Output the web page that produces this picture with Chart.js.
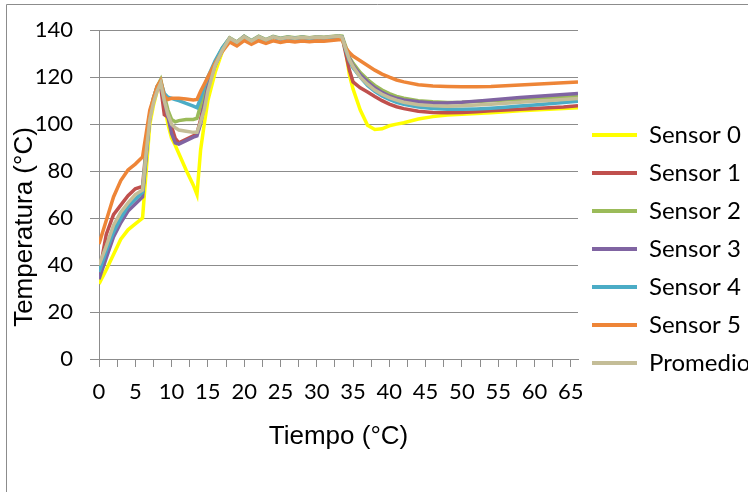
<!DOCTYPE html>
<html>
<head>
<meta charset="utf-8">
<script src="https://cdn.jsdelivr.net/npm/chart.js@4.4.1/dist/chart.umd.min.js"></script>
<style>
  html, body { margin: 0; padding: 0; background: #fff; }
  canvas { display: block; }
</style>
</head>
<body>
<canvas id="chart" width="748" height="492"></canvas>
<script>
// Time of each reading
const time = [0,1,2,3,4,5,6,6.5,7,7.5,8,8.5,9,9.5,10,10.5,11,12,13,13.5,14,14.5,15,16,17,
  18,19,20,21,22,23,24,25,26,27,28,29,30,31,32,33,33.5,34,34.5,35,36,37,38,39,40,41,42,
  44,46,48,50,52,54,56,58,60,62,64,66];

// Temperature readings (°C) per sensor
const sensor0 = [32,38,44.5,51,55,57.5,60,80,100,108,114,117.5,108,100,94,91,87.5,80.5,74,70,89,100,110,122,131,
  136.3,134.6,137.1,135.2,137,135.7,137.1,136.2,136.9,136.4,136.9,136.5,136.9,136.7,137,137.3,
  137,131,121,115,106,99.5,97.7,98,99.3,100,100.6,102.2,103.2,103.9,104.2,104.5,104.9,105.3,105.7,106,106.3,106.7,107];
const sensor1 = [36,53,61.5,65.5,69.5,72.5,73.5,90,104,110,115,116,104,103,99,94,92,93.5,95,96,102,110,117,126,132,
  136.5,134.8,137.2,135.3,137.1,135.8,137.2,136.3,137,136.5,137,136.6,137,136.8,137.1,137.4,
  137,130,123,118,115.5,113.7,111.8,110,108.5,107.4,106.6,105.5,105,104.8,105,105.3,105.7,106,106.3,106.7,107,107.3,107.8];
const sensor2 = [38,48,56,61,65,68,71,88,104,111,116,119,112,106,102,101,101.5,102,102,102.5,108,113,118,126.5,132.5,
  136.8,135,137.5,135.6,137.4,136,137.4,136.6,137.2,136.8,137.2,136.8,137.2,137,137.3,137.6,
  137.5,133,128.5,126,122,119,116.5,114.5,113,111.8,111,110,109.5,109.2,109.3,109.6,110,110.3,110.6,110.9,111.2,111.5,111.8];
const sensor3 = [34,43,52,58,63,66,69,86,103,110,115,117,110,103,96,92,91.5,93,94.5,95,100,108,116,125,131.5,
  136.4,134.7,137.2,135.2,137.1,135.7,137.1,136.2,136.9,136.4,136.9,136.5,136.9,136.7,137,137.3,
  137,132,128,125,121,118,115.5,113.5,112,111,110.3,109.5,109,109,109.3,109.8,110.3,110.8,111.3,111.8,112.2,112.6,113];
const sensor4 = [37,46,54,60,65,68,71,88,104,111,116,118,113,111.5,111,110.5,110,108.8,107.7,107,111,116,120,127,132.5,
  136.6,134.8,137.3,135.4,137.2,135.8,137.2,136.4,137,136.6,137,136.6,137,136.8,137.1,137.4,
  137,131.5,127,124,120,116.5,114,112,110.5,109.3,108.5,107.3,106.7,106.3,106.3,106.5,106.8,107.2,107.7,108.2,108.7,109.2,109.7];
const sensor5 = [49,59,69,76,80.5,83,86,96,106,111,116,118.5,112,110.5,111,111,111,110.7,110.3,110.5,114,117,120,126,131,
  135,133.3,135.6,134,135.5,134.4,135.5,134.8,135.4,135,135.4,135.1,135.4,135.3,135.6,135.9,
  136,132.5,130.5,129,127,125,123,121.3,120,118.8,118,116.8,116.2,116,115.9,115.9,116,116.3,116.7,117,117.3,117.6,117.9];
const promedio = [40,48,57,62.5,66.5,70,72,88,102,109,114,117.5,110,104,100,98.5,97.5,97,96.5,96.5,101,106,114,125,131.5,
  136.6,134.9,137.3,135.4,137.2,135.9,137.2,136.4,137,136.6,137,136.7,137.1,136.9,137.2,137.5,
  137,132,127.5,124.5,120,117,114.5,112.7,111.3,110.2,109.3,108.3,107.8,107.6,107.8,108.1,108.5,108.9,109.3,109.7,110.1,110.5,110.9];

const seriesNames = ['Sensor 0', 'Sensor 1', 'Sensor 2', 'Sensor 3', 'Sensor 4', 'Sensor 5', 'Promedio'];
const seriesValues = [sensor0, sensor1, sensor2, sensor3, sensor4, sensor5, promedio];
const seriesColors = ['#FFFF00', '#C0504D', '#9BBB59', '#8064A2', '#4BACC6', '#EE8537', '#C4BD97'];

// Axis ranges and tick spacing
const xMin = 0, xMax = 66, xTickStep = 2.5, xLabelStep = 5;
const yMin = 0, yMax = 140, yTickStep = 20;
const xTitle = 'Tiempo (°C)';
const yTitle = 'Temperatura (°C)';

const gridColor = '#8c8c8c';
const tickFont = { family: 'Lato', size: 22 };
const titleFont = { family: 'Liberation Sans', size: 26 };

// Outer frame of the chart object
const framePlugin = {
  id: 'frame',
  beforeDraw(chart) {
    const ctx = chart.ctx;
    ctx.save();
    ctx.strokeStyle = '#8c8c8c';
    ctx.lineWidth = 1;
    ctx.beginPath();
    ctx.moveTo(6.5, chart.height);
    ctx.lineTo(6.5, 4.5);
    ctx.lineTo(chart.width, 4.5);
    ctx.stroke();
    ctx.restore();
  }
};

// Vertical axis title, placed beside the value axis
const yTitlePlugin = {
  id: 'yTitle',
  afterDraw(chart) {
    const ctx = chart.ctx;
    ctx.save();
    ctx.translate(25, 227);
    ctx.rotate(-Math.PI / 2);
    ctx.font = `${titleFont.size}px "${titleFont.family}"`;
    ctx.fillStyle = '#000';
    ctx.textAlign = 'center';
    ctx.textBaseline = 'middle';
    ctx.fillText(yTitle, 0, 0);
    ctx.restore();
  }
};

const datasets = seriesNames.map((name, i) => ({
  label: name,
  data: time.map((t, k) => ({ x: t, y: seriesValues[i][k] })),
  borderColor: seriesColors[i],
  backgroundColor: seriesColors[i],
  borderWidth: 3.5,
  pointRadius: 0,
  tension: 0,
  fill: false,
  order: seriesNames.length - i
}));

new Chart(document.getElementById('chart'), {
  type: 'line',
  data: { datasets },
  plugins: [framePlugin, yTitlePlugin],
  options: {
    responsive: false,
    animation: false,
    devicePixelRatio: 1,
    layout: { padding: { top: 28, left: 0, right: 0, bottom: 22 } },
    plugins: {
      tooltip: { enabled: false },
      legend: {
        position: 'right',
        align: 'center',
        maxWidth: 170,
        labels: {
          boxWidth: 45,
          boxHeight: 4,
          padding: 14,
          color: '#000',
          font: { family: 'Lato', size: 24 },
          generateLabels: (chart) => chart.data.datasets.map((ds, i) => ({
            text: ds.label,
            fillStyle: ds.borderColor,
            strokeStyle: ds.borderColor,
            lineWidth: 0,
            hidden: false,
            datasetIndex: i,
            fontColor: '#000'
          }))
        }
      }
    },
    scales: {
      x: {
        type: 'linear',
        min: xMin,
        max: xMax,
        afterFit: (scale) => { scale.height = 111; },
        ticks: {
          stepSize: xTickStep,
          includeBounds: false,
          autoSkip: false,
          maxRotation: 0,
          padding: 12,
          color: '#000',
          font: tickFont,
          callback: (v) => (v % xLabelStep === 0 ? String(v) : '')
        },
        grid: {
          drawOnChartArea: false,
          drawTicks: true,
          tickLength: 8,
          color: gridColor
        },
        border: { color: gridColor, width: 1 },
        title: {
          display: true,
          text: xTitle,
          color: '#000',
          font: titleFont,
          padding: { top: 0, bottom: 18 }
        }
      },
      y: {
        min: yMin,
        max: yMax,
        afterFit: (scale) => { scale.width = 99; },
        ticks: {
          stepSize: yTickStep,
          padding: 17,
          color: '#000',
          font: tickFont
        },
        grid: {
          color: gridColor,
          tickLength: 9
        },
        border: { color: gridColor, width: 1 }
      }
    }
  }
});
</script>
</body>
</html>
